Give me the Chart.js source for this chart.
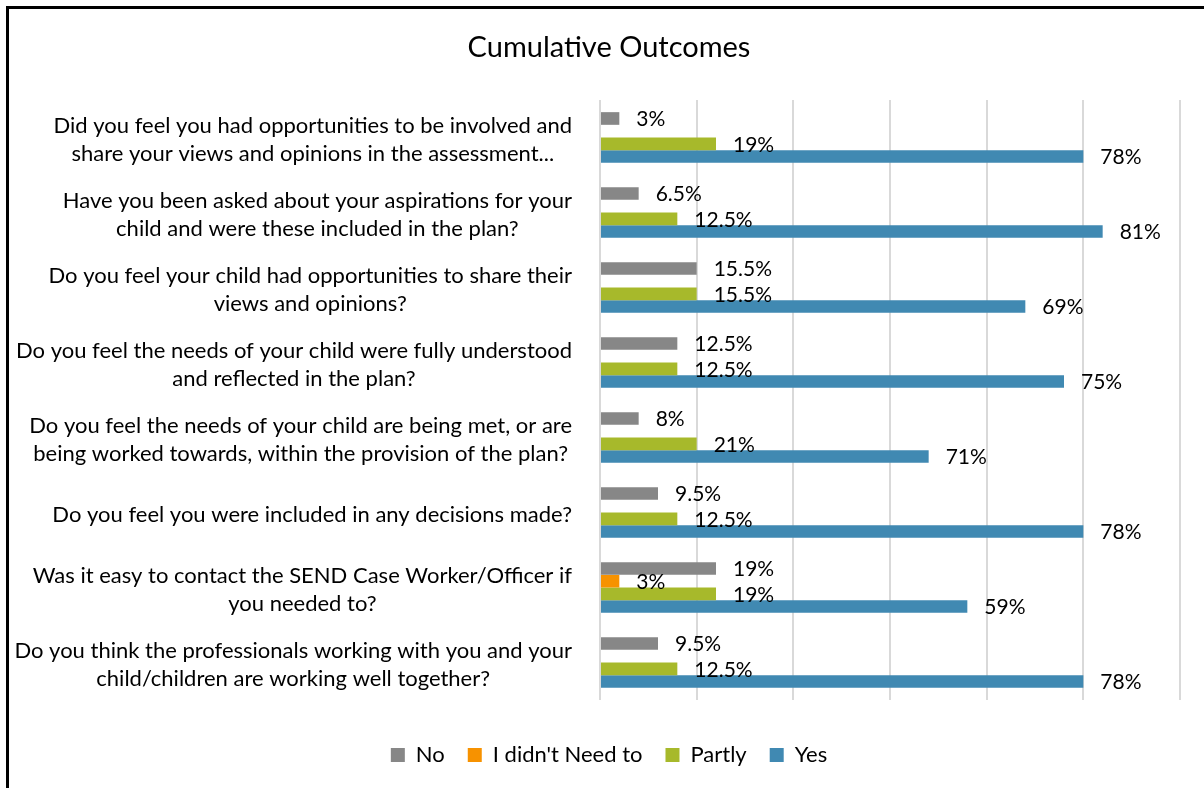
<!DOCTYPE html>
<html>
<head>
<meta charset="utf-8">
<title>Cumulative Outcomes</title>
<script src="https://cdn.jsdelivr.net/npm/chart.js@4.4.1/dist/chart.umd.min.js"></script>
<style>
  html, body { margin: 0; padding: 0; background: #fff; overflow: hidden; }
  #wrap { position: relative; width: 1204px; height: 788px; overflow: hidden; }
  #frame { position: absolute; left: 6px; top: 6px; width: 1300px; height: 900px; border-left: 3px solid #000; border-top: 3px solid #000; }
  canvas { position: absolute; left: 0; top: 0; }
</style>
</head>
<body>
<div id="wrap">
  <div id="frame"></div>
  <canvas id="barChart" width="1204" height="788"></canvas>
</div>
<script>
// Preguntas (cada una partida en líneas)
const categories = [
    ['Did you feel you had opportunities to be involved and', 'share your views and opinions in the assessment...'],
    ['Have you been asked about your aspirations for your', 'child and were these included in the plan?'],
    ['Do you feel your child had opportunities to share their', 'views and opinions?'],
    ['Do you feel the needs of your child were fully understood', 'and reflected in the plan?'],
    ['Do you feel the needs of your child are being met, or are', 'being worked towards, within the provision of the plan?'],
    ['Do you feel you were included in any decisions made?'],
    ['Was it easy to contact the SEND Case Worker/Officer if', 'you needed to?'],
    ['Do you think the professionals working with you and your', 'child/children are working well together?']
];

// Número de respuestas (longitud de las barras)
const noValues        = [1, 2, 5, 4, 2, 3, 6, 3];
const notNeededValues = [null, null, null, null, null, null, 1, null];
const partlyValues    = [6, 4, 5, 4, 5, 4, 6, 4];
const yesValues       = [25, 26, 22, 24, 17, 25, 19, 25];

// Etiquetas de porcentaje que se muestran al final de cada barra
const noLabels        = ['3%', '6.5%', '15.5%', '12.5%', '8%', '9.5%', '19%', '9.5%'];
const notNeededLabels = [null, null, null, null, null, null, '3%', null];
const partlyLabels    = ['19%', '12.5%', '15.5%', '12.5%', '21%', '12.5%', '19%', '12.5%'];
const yesLabels       = ['78%', '81%', '69%', '75%', '71%', '78%', '59%', '78%'];

// Eje X
const xMin = 0;
const xMax = 30;
const xStep = 5;

const FONT = "Lato, 'Open Sans', sans-serif";

// Plugin: etiquetas de datos y preguntas centradas
const labelPlugin = {
    id: 'cumulativeLabels',
    afterDatasetsDraw(chart) {
        const ctx = chart.ctx;
        ctx.save();
        ctx.fillStyle = '#000';
        ctx.textBaseline = 'middle';

        // porcentajes
        ctx.font = '21px ' + FONT;
        ctx.textAlign = 'left';
        chart.data.datasets.forEach((ds, i) => {
            chart.getDatasetMeta(i).data.forEach((bar, j) => {
                const txt = ds.pctLabels[j];
                if (!txt) return;
                ctx.fillText(txt, bar.x + 17, bar.y + 1);
            });
        });

        // preguntas
        const yScale = chart.scales.y;
        const right = chart.chartArea.left - 28;
        ctx.font = '22px ' + FONT;
        ctx.textAlign = 'center';
        chart.data.labels.forEach((lines, j) => {
            const y0 = yScale.getPixelForValue(j) + 2;
            const w = Math.max(...lines.map(l => ctx.measureText(l).width));
            const cx = right - w / 2;
            lines.forEach((l, k) => {
                ctx.fillText(l, cx, y0 + (k - (lines.length - 1) / 2) * 28);
            });
        });
        ctx.restore();
    }
};

function renderChart() {
    const ctx = document.getElementById('barChart').getContext('2d');
    new Chart(ctx, {
        type: 'bar',
        data: {
            labels: categories,
            datasets: [
                { label: 'No', data: noValues, backgroundColor: '#878787', pctLabels: noLabels },
                { label: "I didn't Need to", data: notNeededValues, backgroundColor: '#F79200', pctLabels: notNeededLabels },
                { label: 'Partly', data: partlyValues, backgroundColor: '#A7B92B', pctLabels: partlyLabels },
                { label: 'Yes', data: yesValues, backgroundColor: '#4089B2', pctLabels: yesLabels }
            ]
        },
        options: {
            indexAxis: 'y',
            responsive: false,
            animation: false,
            layout: { padding: { top: 0, right: 0, bottom: 12, left: 14 } },
            datasets: { bar: { categoryPercentage: 0.676, barPercentage: 1, borderWidth: 0 } },
            plugins: {
                title: {
                    display: true,
                    text: 'Cumulative Outcomes',
                    color: '#000',
                    font: { family: FONT, size: 29, weight: 'normal' },
                    padding: { top: 30.6, bottom: 34.6 }
                },
                legend: {
                    position: 'bottom',
                    labels: {
                        boxWidth: 14,
                        boxHeight: 14,
                        padding: 23,
                        color: '#000',
                        font: { family: FONT, size: 22 }
                    }
                },
                tooltip: { enabled: false }
            },
            scales: {
                x: {
                    min: xMin,
                    max: xMax,
                    ticks: { stepSize: xStep, display: false },
                    grid: { color: '#d9d9d9', lineWidth: 2, drawTicks: false },
                    border: { display: false },
                    afterFit: s => { s.height = 21; }
                },
                y: {
                    ticks: { display: false },
                    grid: { display: false },
                    border: { display: false },
                    afterFit: s => { s.width = 586; }
                },
                // eje vacío a la derecha, solo deja margen
                yRight: {
                    type: 'category',
                    position: 'right',
                    ticks: { display: false },
                    grid: { display: false },
                    border: { display: false },
                    afterFit: s => { s.width = 24; }
                }
            }
        },
        plugins: [labelPlugin]
    });
}

document.fonts.load('20px Lato').then(renderChart, renderChart);
</script>
</body>
</html>
